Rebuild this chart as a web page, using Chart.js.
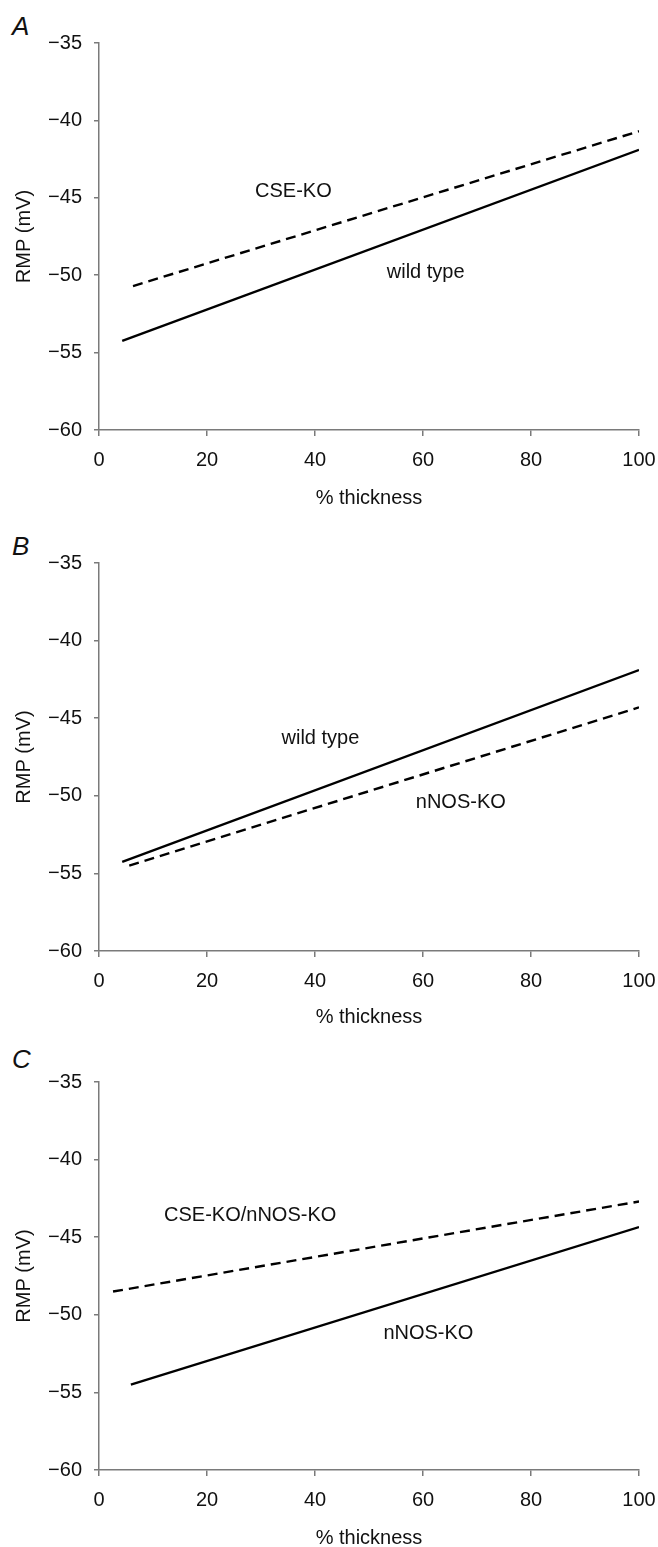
<!DOCTYPE html>
<html>
<head>
<meta charset="utf-8">
<script src="https://cdn.jsdelivr.net/npm/chart.js@4/dist/chart.umd.min.js"></script>
<style>
  html, body { margin: 0; padding: 0; background: #fff; overflow: hidden; }
  body { width: 658px; height: 1547px; position: relative; }
  .panel { position: absolute; left: 0; width: 658px; }
  .letter { position: absolute; left: 12px; font: italic 26px "Liberation Sans", Arial, sans-serif; color: #111; }
</style>
</head>
<body>
<div class="letter" style="top:11px">A</div>
<div class="letter" style="top:531px">B</div>
<div class="letter" style="top:1044px">C</div>
<div class="panel" style="top:0px"><canvas id="chartA" width="658" height="515"></canvas></div>
<div class="panel" style="top:515px"><canvas id="chartB" width="658" height="521"></canvas></div>
<div class="panel" style="top:1036px"><canvas id="chartC" width="658" height="519"></canvas></div>
<script>
// shared axis ticks
const xTicks = [0, 20, 40, 60, 80, 100];
const yTicks = [-60, -55, -50, -45, -40, -35];

// Panel A: wild type vs CSE-KO
const aWildX = [4.3, 100];
const aWildY = [-54.25, -41.9];
const aCseX = [6.3, 100];
const aCseY = [-50.7, -40.7];

// Panel B: wild type vs nNOS-KO
const bWildX = [4.3, 100];
const bWildY = [-54.25, -41.9];
const bNnosX = [5.6, 100];
const bNnosY = [-54.5, -44.3];

// Panel C: nNOS-KO vs CSE-KO/nNOS-KO
const cNnosX = [5.9, 100];
const cNnosY = [-54.5, -44.35];
const cDoubleX = [2.6, 100];
const cDoubleY = [-48.5, -42.7];

// text labels inside plots (data coordinates)
const aLabels = [['CSE-KO', 36, -44.6], ['wild type', 60.5, -49.8]];
const bLabels = [['wild type', 41, -46.3], ['nNOS-KO', 67, -50.4]];
const cLabels = [['CSE-KO/nNOS-KO', 28, -43.6], ['nNOS-KO', 61, -51.2]];

const FONT = '"Liberation Sans", Arial, sans-serif';
const AXIS = '#7a7a7a';

function toPoints(xs, ys) {
    return xs.map((x, i) => ({ x: x, y: ys[i] }));
}

const labelPlugin = {
    id: 'inlineLabels',
    afterDatasetsDraw(chart, args, opts) {
        const ctx = chart.ctx;
        const xs = chart.scales.x, ys = chart.scales.y;
        ctx.save();
        ctx.fillStyle = '#111';
        ctx.font = '20px ' + FONT;
        ctx.textAlign = 'center';
        ctx.textBaseline = 'middle';
        (opts.items || []).forEach(item => {
            ctx.fillText(item[0], xs.getPixelForValue(item[1]), ys.getPixelForValue(item[2]));
        });
        ctx.restore();
    }
};

function makePanel(id, solid, dashed, labels, topPad, titlePad) {
    const ctx = document.getElementById(id).getContext('2d');
    return new Chart(ctx, {
        type: 'scatter',
        data: {
            datasets: [
                {
                    data: solid,
                    showLine: true,
                    borderColor: '#000',
                    borderWidth: 2.4,
                    pointRadius: 0,
                    fill: false
                },
                {
                    data: dashed,
                    showLine: true,
                    borderColor: '#000',
                    borderWidth: 2.4,
                    borderDash: [10, 6],
                    pointRadius: 0,
                    fill: false
                }
            ]
        },
        options: {
            responsive: false,
            animation: false,
            layout: { padding: { left: 0, right: 19, top: topPad, bottom: 0 } },
            plugins: {
                legend: { display: false },
                tooltip: { enabled: false },
                inlineLabels: { items: labels }
            },
            scales: {
                x: {
                    type: 'linear',
                    min: 0,
                    max: 100,
                    afterBuildTicks: scale => { scale.ticks = xTicks.map(v => ({ value: v })); },
                    afterFit: scale => {
                        scale.height = 85;
                        scale.paddingLeft = 0;
                        scale.paddingRight = 0;
                    },
                    ticks: {
                        color: '#111',
                        font: { family: FONT, size: 20 },
                        padding: 12,
                        maxRotation: 0
                    },
                    grid: { drawOnChartArea: false, tickLength: 6, color: AXIS, lineWidth: 1.5 },
                    border: { color: AXIS, width: 1.5 },
                    title: {
                        display: true,
                        text: '% thickness',
                        color: '#111',
                        font: { family: FONT, size: 20 },
                        padding: { top: 0, bottom: titlePad }
                    }
                },
                y: {
                    type: 'linear',
                    min: -60,
                    max: -35,
                    afterBuildTicks: scale => { scale.ticks = yTicks.map(v => ({ value: v })); },
                    afterFit: scale => {
                        scale.width = 99;
                        scale.paddingTop = 0;
                        scale.paddingBottom = 0;
                    },
                    ticks: {
                        color: '#111',
                        font: { family: FONT, size: 20 },
                        padding: 12,
                        callback: v => String(v).replace('-', '\u2212')
                    },
                    grid: { drawOnChartArea: false, tickLength: 5, color: AXIS, lineWidth: 1.5 },
                    border: { color: AXIS, width: 1.5 },
                    title: {
                        display: true,
                        text: 'RMP (mV)',
                        color: '#111',
                        font: { family: FONT, size: 20 },
                        padding: { top: 12, bottom: 0 }
                    }
                }
            }
        },
        plugins: [labelPlugin]
    });
}

makePanel('chartA', toPoints(aWildX, aWildY), toPoints(aCseX, aCseY), aLabels, 43, 5);
makePanel('chartB', toPoints(bWildX, bWildY), toPoints(bNnosX, bNnosY), bLabels, 48, 7);
makePanel('chartC', toPoints(cNnosX, cNnosY), toPoints(cDoubleX, cDoubleY), cLabels, 46, 5);
</script>
</body>
</html>
